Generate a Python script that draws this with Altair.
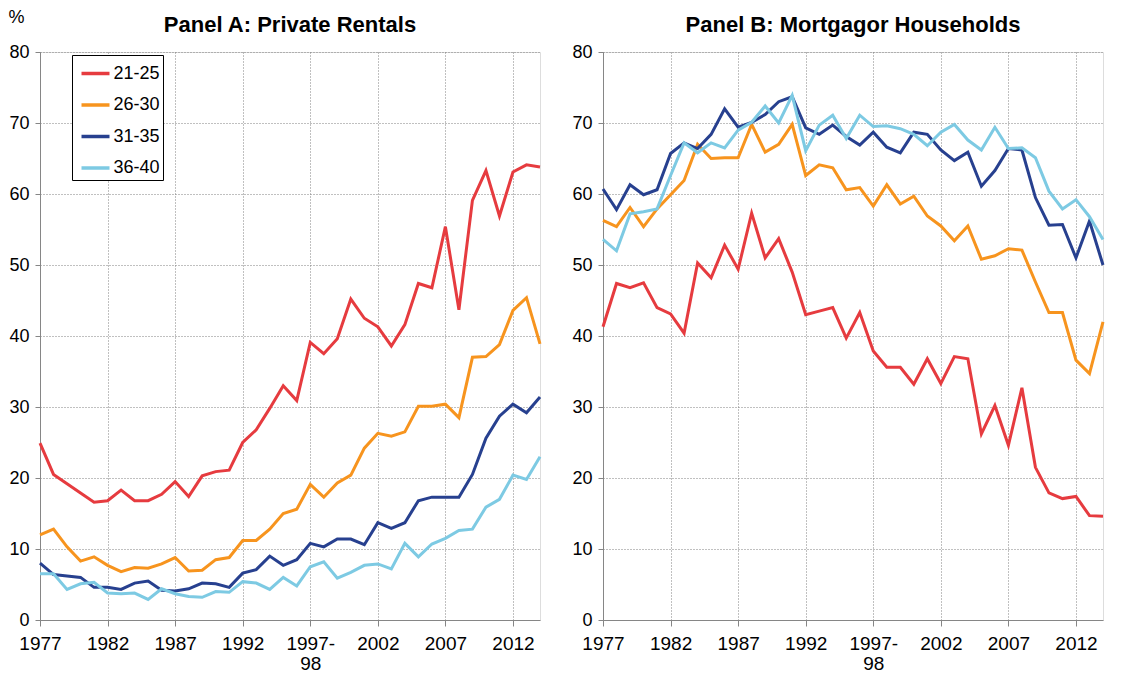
import altair as alt
import pandas as pd

# ---- data ----
age_groups = ["21-25", "26-30", "31-35", "36-40"]
line_colors = ["#E63B3F", "#F7941E", "#27408F", "#7DCAE3"]

tick_positions = [0, 5, 10, 15, 20, 25, 30, 35]
tick_labels = ["1977", "1982", "1987", "1992", "1997-98", "2002", "2007", "2012"]

# Panel A: Private Rentals (%), one value per survey year, 1977 ... 2013-14
rent_21_25 = [24.9, 20.5, 19.2, 17.9, 16.6, 16.8, 18.3, 16.8, 16.8, 17.7, 19.5, 17.4, 20.3, 20.9, 21.1, 25.0,
              26.8, 29.8, 33.0, 30.9, 39.1, 37.5, 39.6, 45.2, 42.5, 41.3, 38.6, 41.6, 47.4, 46.8, 55.4, 43.7,
              59.1, 63.3, 56.9, 63.1, 64.1, 63.8]
rent_26_30 = [12.0, 12.8, 10.3, 8.3, 8.9, 7.7, 6.8, 7.4, 7.3, 7.9, 8.8, 6.9, 7.0, 8.5, 8.8, 11.2,
              11.2, 12.8, 15.0, 15.6, 19.1, 17.3, 19.3, 20.4, 24.2, 26.3, 25.9, 26.5, 30.1, 30.1, 30.4, 28.5,
              37.0, 37.1, 38.8, 43.6, 45.4, 38.9]
rent_31_35 = [8.0, 6.4, 6.2, 6.0, 4.6, 4.6, 4.3, 5.2, 5.5, 4.2, 4.1, 4.4, 5.2, 5.1, 4.6, 6.6,
              7.1, 9.0, 7.7, 8.5, 10.8, 10.3, 11.4, 11.4, 10.6, 13.7, 12.9, 13.7, 16.8, 17.3, 17.3, 17.3,
              20.5, 25.6, 28.7, 30.4, 29.2, 31.4]
rent_36_40 = [6.5, 6.5, 4.3, 5.1, 5.3, 3.8, 3.7, 3.8, 2.9, 4.4, 3.7, 3.3, 3.2, 4.0, 3.9, 5.4,
              5.2, 4.3, 6.0, 4.8, 7.5, 8.2, 5.9, 6.7, 7.7, 7.9, 7.2, 10.8, 8.9, 10.7, 11.5, 12.6,
              12.8, 15.9, 17.0, 20.4, 19.8, 23.0]

# Panel B: Mortgagor Households (%)
mort_21_25 = [41.3, 47.4, 46.8, 47.5, 44.0, 43.1, 40.4, 50.3, 48.2, 52.8, 49.4, 57.3, 51.0, 53.7, 49.0, 43.0,
              43.5, 44.0, 39.7, 43.3, 37.9, 35.6, 35.6, 33.2, 36.8, 33.3, 37.1, 36.8, 26.2, 30.2, 24.6, 32.7,
              21.5, 17.9, 17.1, 17.4, 14.7, 14.6]
mort_26_30 = [56.3, 55.4, 58.1, 55.4, 57.9, 59.9, 61.9, 67.0, 65.0, 65.1, 65.1, 69.8, 65.9, 67.0, 69.8, 62.6,
              64.1, 63.7, 60.6, 60.9, 58.3, 61.3, 58.6, 59.7, 56.9, 55.5, 53.4, 55.5, 50.8, 51.3, 52.3, 52.1,
              47.6, 43.3, 43.3, 36.6, 34.7, 42.0]
mort_31_35 = [60.7, 57.8, 61.3, 59.9, 60.6, 65.7, 67.2, 66.4, 68.4, 72.0, 69.4, 70.1, 71.2, 73.0, 73.7, 69.3,
              68.4, 69.7, 68.1, 66.9, 68.7, 66.6, 65.8, 68.7, 68.4, 66.2, 64.7, 65.9, 61.1, 63.3, 66.4, 66.2,
              59.5, 55.6, 55.7, 51.0, 56.2, 50.0]
mort_36_40 = [53.6, 52.0, 57.2, 57.5, 57.9, 62.6, 67.2, 65.8, 67.2, 66.5, 69.0, 70.1, 72.4, 70.0, 73.9, 66.1,
              69.7, 71.1, 67.8, 71.1, 69.5, 69.6, 69.2, 68.4, 66.8, 68.7, 69.8, 67.6, 66.2, 69.4, 66.4, 66.5,
              65.1, 60.4, 57.9, 59.2, 56.8, 53.6]

FONT = "Liberation Sans"


def long_frame(series_list):
    rows = []
    for grp, vals in zip(age_groups, series_list):
        for i, v in enumerate(vals):
            rows.append({"pos": i, "age": grp, "value": v})
    return pd.DataFrame(rows)


df_a = long_frame([rent_21_25, rent_26_30, rent_31_35, rent_36_40])
df_b = long_frame([mort_21_25, mort_26_30, mort_31_35, mort_36_40])


def js_label(s):
    if "-" in s:
        a, b = s.split("-")
        return "['%s-','%s']" % (a, b)
    return "'%s'" % s


label_expr = "[" + ",".join(js_label(s) for s in tick_labels) + "][datum.value/5]"

GRID = "#808080"
AXIS = "#868686"


def x_axis():
    return alt.Axis(values=tick_positions, labelExpr=label_expr, title=None, grid=True,
                    gridColor=GRID, gridDash=[1, 2], gridWidth=1,
                    domainColor=AXIS, tickColor=AXIS, tickSize=6,
                    labelFont=FONT, labelFontSize=19, labelColor="black", labelPadding=8,
                    labelLineHeight=20, labelFlush=False, labelOverlap=False, labelAngle=0)


def y_axis():
    return alt.Axis(values=list(range(0, 81, 10)), title=None, grid=True, gridColor=GRID,
                    gridDash=[1, 2], gridWidth=1,
                    domainColor=AXIS, tickColor=AXIS, tickSize=5,
                    labelFont=FONT, labelFontSize=18, labelColor="black", labelPadding=6,
                    labelFlush=False, labelOverlap=False)


def panel(df, title, first):
    if first:
        legend = alt.Legend(orient="none", legendX=32, legendY=3, title=None,
                            strokeColor="black", fillColor="white", padding=2.5, rowPadding=6.5,
                            symbolType="stroke", symbolSize=784, symbolStrokeWidth=3.5,
                            symbolOffset=5,
                            labelFont=FONT, labelFontSize=18, labelColor="black", labelOffset=2,
                            cornerRadius=0)
    else:
        legend = None
    return alt.Chart(df).mark_line(strokeWidth=3).encode(
        x=alt.X("pos:Q", scale=alt.Scale(domain=[0, 37], nice=False, zero=False), axis=x_axis()),
        y=alt.Y("value:Q", scale=alt.Scale(domain=[0, 80], nice=False), axis=y_axis()),
        color=alt.Color("age:N", scale=alt.Scale(domain=age_groups, range=line_colors), legend=legend),
        detail="age:N",
    ).properties(
        width=500, height=568,
        title=alt.TitleParams(title, font=FONT, fontSize=22, fontWeight="bold", color="black",
                              offset=6, anchor="middle"),
    )


chart = alt.hconcat(
    panel(df_a, "Panel A: Private Rentals", True),
    panel(df_b, "Panel B: Mortgagor  Households", False),
    spacing=24,
).resolve_scale(color="independent").properties(
    title=alt.TitleParams("%", anchor="start", font=FONT, fontSize=18, fontWeight="normal",
                          color="black", offset=-13),
    padding={"left": 0, "top": 0, "right": 5, "bottom": 0},
).configure_view(stroke=None).configure(background="white")

chart.save("out.html", embed_options={"renderer": "svg", "actions": False})
